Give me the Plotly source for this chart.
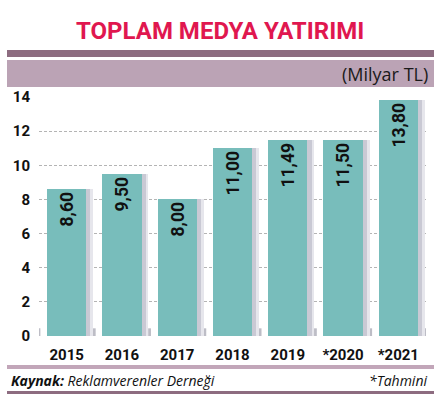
import plotly.graph_objects as go

years = ["2015", "2016", "2017", "2018", "2019", "*2020", "*2021"]
values = [8.60, 9.50, 8.00, 11.00, 11.49, 11.50, 13.80]
labels = ["8,60", "9,50", "8,00", "11,00", "11,49", "11,50", "13,80"]
yticks = [0, 2, 4, 6, 8, 10, 12, 14]

FONT = "Roboto"
TEAL = "#78bdbb"

W, H = 443, 398
L, R, T, B = 39, 17, 97, 62
PW = W - L - R
PH = H - T - B


def px(x):
    return (x - L) / PW


def py(y):
    return (H - B - y) / PH


fig = go.Figure()
# shadows
fig.add_trace(go.Bar(x=years, y=values, width=0.80, offset=-0.32,
                     marker=dict(color="#e6e6ec", line_width=0), hoverinfo="skip"))
fig.add_trace(go.Bar(x=years, y=values, width=0.75, offset=-0.32,
                     marker=dict(color="#c9c9d4", line_width=0), hoverinfo="skip"))
fig.add_trace(go.Bar(x=years, y=values, width=0.71, offset=-0.355,
                     marker=dict(color=TEAL, line_width=0),
                     text=labels, textposition="inside", insidetextanchor="end",
                     textangle=-90,
                     textfont=dict(family=FONT, size=17.5, color="#111111", weight="bold"),
                     cliponaxis=False))

shapes = []
# boundary tick marks
for i in range(len(years) + 1):
    b = i - 0.5
    shapes.append(dict(type="rect", xref="x", yref="y", x0=b - 0.025, x1=b + 0.025,
                       y0=0, y1=0.45, fillcolor="#bdbdc6", line_width=0, layer="below"))
# bands
shapes.append(dict(type="rect", xref="paper", yref="paper", x0=px(7), x1=px(434),
                   y0=py(57), y1=py(50), fillcolor="#8d6c80", line_width=0))
shapes.append(dict(type="rect", xref="paper", yref="paper", x0=px(7), x1=px(434),
                   y0=py(87), y1=py(60), fillcolor="#bba3b5", line_width=0))
shapes.append(dict(type="rect", xref="paper", yref="paper", x0=px(7), x1=px(434),
                   y0=py(369), y1=py(365), fillcolor="#c2a6b9", line_width=0))
shapes.append(dict(type="rect", xref="paper", yref="paper", x0=px(7), x1=px(434),
                   y0=py(394), y1=py(391), fillcolor="#8d6c80", line_width=0))

annotations = [
    dict(text="TOPLAM MEDYA YATIRIMI", xref="paper", yref="paper", x=px(220), y=py(31),
         xanchor="center", yanchor="middle", showarrow=False,
         font=dict(family=FONT, size=24, color="#e0174f", weight="bold")),
    dict(text="(Milyar TL)", xref="paper", yref="paper", x=px(430), y=py(74),
         xanchor="right", yanchor="middle", showarrow=False,
         font=dict(family="Open Sans", size=18, color="#1a1a1a")),
    dict(text="<b><i>Kaynak:</i></b><i> Reklamverenler Derneği</i>", xref="paper", yref="paper",
         x=px(9), y=py(380), xanchor="left", yanchor="middle", showarrow=False,
         font=dict(family="Open Sans", size=14, color="#111111")),
    dict(text="<i>*Tahmini</i>", xref="paper", yref="paper",
         x=px(429), y=py(380), xanchor="right", yanchor="middle", showarrow=False,
         font=dict(family="Open Sans", size=14, color="#111111")),
]

fig.update_layout(
    width=W, height=H,
    margin=dict(l=L, r=R, t=T, b=B, pad=0, autoexpand=False),
    paper_bgcolor="white", plot_bgcolor="white",
    barmode="overlay", bargap=0,
    showlegend=False,
    shapes=shapes, annotations=annotations,
    uniformtext=dict(minsize=8, mode="show"),
    xaxis=dict(range=[-0.5, 6.5], showgrid=False, zeroline=False, showline=False,
               ticks="", ticklabelstandoff=8, tickangle=0, automargin=False,
               tickfont=dict(family=FONT, size=15, color="#111111", weight="bold")),
    yaxis=dict(range=[0, 14], tickvals=yticks, showgrid=True, gridcolor="#b4b4b4",
               griddash="3px,2px", gridwidth=1, zeroline=False, showline=False,
               ticks="", ticklabelstandoff=8, automargin=False,
               tickfont=dict(family=FONT, size=15, color="#111111", weight="bold")),
)

fig.write_html("out.html")
